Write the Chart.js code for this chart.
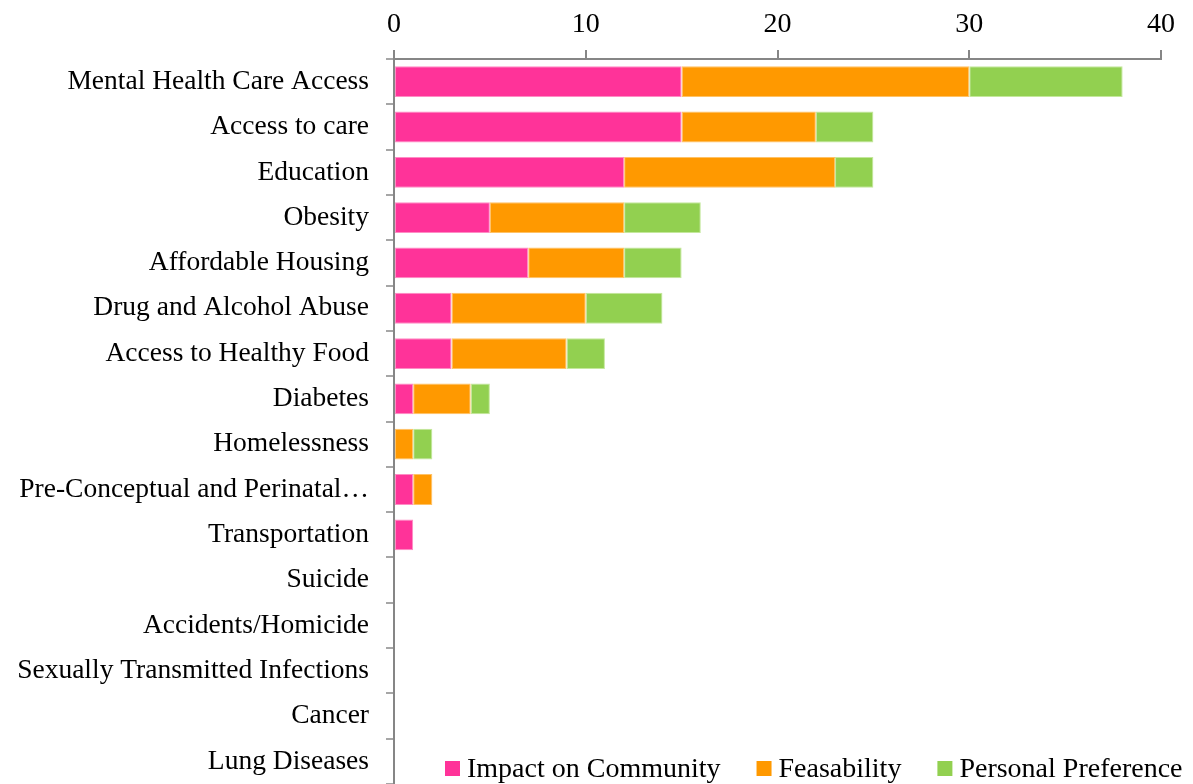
<!DOCTYPE html>
<html>
<head>
<meta charset="utf-8">
<script src="https://cdn.jsdelivr.net/npm/chart.js@4.4.1/dist/chart.umd.min.js"></script>
<style>
  html, body { margin: 0; padding: 0; background: #ffffff; }
  #wrap { width: 1193px; height: 784px; position: relative; }
</style>
</head>
<body>
<div id="wrap"><canvas id="priorityChart"></canvas></div>
<script>
// Ranked health issues and the three scoring criteria
const issues = [
    'Mental Health Care Access', 'Access to care', 'Education', 'Obesity',
    'Affordable Housing', 'Drug and Alcohol Abuse', 'Access to Healthy Food',
    'Diabetes', 'Homelessness', 'Pre-Conceptual and Perinatal\u2026',
    'Transportation', 'Suicide', 'Accidents/Homicide',
    'Sexually Transmitted Infections', 'Cancer', 'Lung Diseases'
];
const impactScores     = [15, 15, 12, 5, 7, 3, 3, 1, 0, 1, 1, 0, 0, 0, 0, 0];
const feasabilityScores = [15, 7, 11, 7, 5, 7, 6, 3, 1, 1, 0, 0, 0, 0, 0, 0];
const preferenceScores = [8, 3, 2, 4, 3, 4, 2, 1, 1, 0, 0, 0, 0, 0, 0, 0];
const axisTicks = [0, 10, 20, 30, 40];

const FONT = '"Liberation Serif", "Times New Roman", serif';

// Legend drawn along the bottom edge, over the plot area
const bottomLegend = {
    id: 'bottomLegend',
    afterDraw(chart) {
        const ctx = chart.ctx;
        ctx.save();
        ctx.font = '28px ' + FONT;
        ctx.textBaseline = 'alphabetic';
        let x = 445;
        chart.data.datasets.forEach(ds => {
            ctx.fillStyle = ds.backgroundColor;
            ctx.fillRect(x, 761, 15, 15);
            ctx.fillStyle = '#000000';
            ctx.fillText(ds.label, x + 22, 777);
            x += 22 + ctx.measureText(ds.label).width + 36;
        });
        ctx.restore();
    }
};

const ctx = document.getElementById('priorityChart').getContext('2d');
new Chart(ctx, {
    type: 'bar',
    data: {
        labels: issues,
        datasets: [
            { label: 'Impact on Community', data: impactScores, backgroundColor: '#ff3399', borderColor: '#ff8cc4' },
            { label: 'Feasability', data: feasabilityScores, backgroundColor: '#ff9900', borderColor: '#ffc266' },
            { label: 'Personal Preference', data: preferenceScores, backgroundColor: '#92d050', borderColor: '#c4e89c' }
        ]
    },
    options: {
        indexAxis: 'y',
        responsive: true,
        maintainAspectRatio: false,
        animation: false,
        datasets: {
            bar: { borderWidth: 1, borderSkipped: false, categoryPercentage: 1, barPercentage: 0.68 }
        },
        layout: { padding: { left: 0, right: 32, top: 0, bottom: 0 } },
        plugins: {
            legend: { display: false },
            tooltip: { enabled: false }
        },
        scales: {
            x: {
                position: 'top',
                stacked: true,
                min: 0,
                max: 40,
                afterBuildTicks: scale => { scale.ticks = axisTicks.map(v => ({ value: v })); },
                afterFit: scale => { scale.height = 59; },
                border: { display: true, color: '#868686', width: 2 },
                grid: { drawOnChartArea: false, drawTicks: true, tickLength: 9, color: '#868686', lineWidth: 2 },
                ticks: { color: '#000000', padding: 9, font: { family: FONT, size: 28 } }
            },
            y: {
                stacked: true,
                afterFit: scale => {
                    // plot runs right down to the bottom edge
                    scale.width = 394;
                    scale.paddingTop = 0;
                    scale.paddingBottom = 0;
                },
                border: { display: true, color: '#868686', width: 2 },
                grid: { drawOnChartArea: false, drawTicks: true, tickLength: 8, color: '#a6a6a6', lineWidth: 2, offset: true },
                ticks: { color: '#000000', padding: 17, autoSkip: false, font: { family: FONT, size: 27.5 } }
            }
        }
    },
    plugins: [bottomLegend]
});
</script>
</body>
</html>
